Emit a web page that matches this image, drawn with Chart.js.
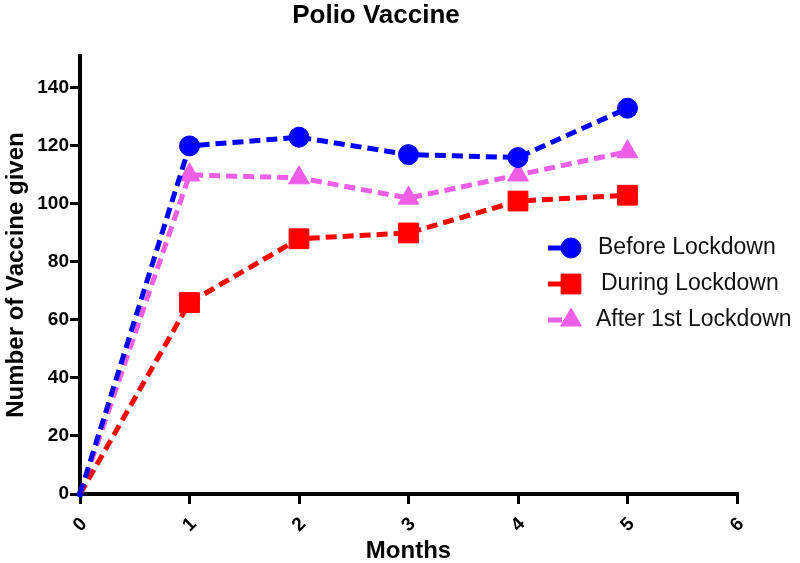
<!DOCTYPE html>
<html>
<head>
<meta charset="utf-8">
<script src="https://cdn.jsdelivr.net/npm/chart.js@4.4.0/dist/chart.umd.min.js"></script>
<style>
  body { margin: 0; background: #fff; }
  #wrap { width: 800px; height: 563px; }
</style>
</head>
<body>
<div id="wrap"><canvas id="lineChart" width="800" height="563"></canvas></div>
<script>
var months = [0, 1, 2, 3, 4, 5];
var beforeLockdown = [0, 120, 123, 117, 116, 133];
var duringLockdown = [0, 66, 88, 90, 101, 103];
var afterLockdown = [0, 110, 109, 102, 110, 118];
var seriesNames = ['Before Lockdown', 'During Lockdown', 'After 1st Lockdown'];

function toPoints(vals) {
  return months.map(function(m, i) { return { x: m, y: vals[i] }; });
}

var colors = ['#0000ff', '#ff0000', '#ee5ee6'];
var styles = ['circle', 'rect', 'triangle'];
var sizes = [10, 14, 12];
var font = "'Liberation Sans', Arial, sans-serif";

// title drawn by hand, it sits a bit left of centre in the original
var titlePlugin = {
  id: 'titleText',
  afterDraw: function(chart) {
    var c = chart.ctx;
    c.save();
    c.font = 'bold 26px ' + font;
    c.fillStyle = '#000';
    c.textAlign = 'center';
    c.textBaseline = 'middle';
    c.fillText('Polio Vaccine', 376, 16);
    c.restore();
  }
};

// legend sits inside the plot on the right
var legendPlugin = {
  id: 'insideLegend',
  afterDraw: function(chart) {
    var c = chart.ctx;
    var rows = [248, 284, 320];
    var textX = [598, 601, 596];
    chart.data.datasets.forEach(function(ds, i) {
      var y = rows[i];
      c.save();
      c.strokeStyle = ds.borderColor;
      c.lineWidth = 5;
      c.beginPath();
      c.moveTo(548, y);
      c.lineTo(562, y);
      c.stroke();
      c.fillStyle = ds.backgroundColor;
      c.strokeStyle = ds.borderColor;
      c.lineWidth = 1;
      Chart.helpers.drawPoint(c, { pointStyle: ds.pointStyle, radius: sizes[i], borderWidth: 1, rotation: 0 }, 571, y);
      c.fillStyle = '#111';
      c.font = '23px ' + font;
      c.textAlign = 'left';
      c.textBaseline = 'middle';
      c.fillText(ds.label, textX[i], y);
      c.restore();
    });
  }
};

var allSeries = [beforeLockdown, duringLockdown, afterLockdown];
var datasets = allSeries.map(function(vals, i) {
  var r = sizes[i];
  return {
    label: seriesNames[i],
    data: toPoints(vals),
    borderColor: colors[i],
    backgroundColor: colors[i],
    borderWidth: 5,
    borderDash: [11, 6],
    pointStyle: styles[i],
    pointRadius: [3, r, r, r, r, r],
    pointBorderWidth: 1,
    clip: false,
    tension: 0
  };
});

new Chart(document.getElementById('lineChart'), {
  type: 'line',
  data: { datasets: datasets },
  plugins: [titlePlugin, legendPlugin],
  options: {
    responsive: false,
    animation: false,
    layout: { padding: { top: 56, right: 63, left: 0, bottom: 0 } },
    plugins: { legend: { display: false }, tooltip: { enabled: false }, title: { display: false } },
    scales: {
      x: {
        type: 'linear',
        min: 0,
        max: 6,
        ticks: { stepSize: 1, minRotation: 45, maxRotation: 45, labelOffset: 4, color: '#000', font: { family: font, size: 19, weight: 'bold' }, padding: 9 },
        grid: { drawOnChartArea: false, color: '#000', lineWidth: 3, tickLength: 10 },
        border: { color: '#000', width: 4 },
        title: { display: true, text: 'Months', color: '#000', font: { family: font, size: 24, weight: 'bold', lineHeight: 1 }, padding: { top: 0, bottom: 0 } },
        afterFit: function(scale) { scale.height = 69; }
      },
      y: {
        min: 0,
        max: 151,
        afterBuildTicks: function(scale) {
          scale.ticks = scale.ticks.filter(function(t) { return t.value % 20 === 0; });
        },
        ticks: { stepSize: 20, color: '#000', font: { family: font, size: 19, weight: 'bold' }, padding: 1 },
        grid: { drawOnChartArea: false, color: '#000', lineWidth: 3, tickLength: 10 },
        border: { color: '#000', width: 4 },
        title: { display: true, text: 'Number of Vaccine given', color: '#000', font: { family: font, size: 24, weight: 'bold' }, padding: { top: 2, bottom: 0 } },
        afterFit: function(scale) { scale.width = 80; }
      }
    }
  }
});
</script>
</body>
</html>
